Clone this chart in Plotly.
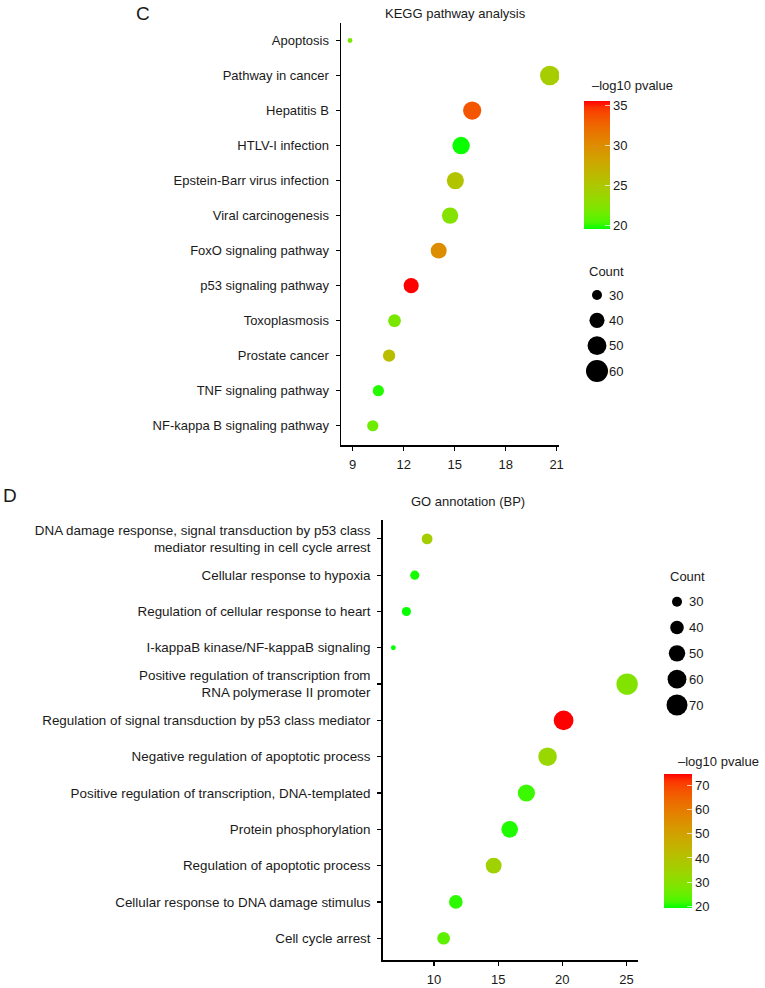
import plotly.graph_objects as go

# ---------------- data ----------------
kegg_terms = ["Apoptosis", "Pathway in cancer", "Hepatitis B", "HTLV-I infection",
              "Epstein-Barr virus infection", "Viral carcinogenesis", "FoxO signaling pathway",
              "p53 signaling pathway", "Toxoplasmosis", "Prostate cancer",
              "TNF signaling pathway", "NF-kappa B signaling pathway"]
kegg_x = [8.84, 20.6, 16.03, 15.38, 15.04, 14.73, 14.06, 12.44, 11.46, 11.14, 10.51, 10.18]
kegg_count = [24, 52, 48, 46, 45, 43, 42, 40, 35, 34, 32, 32]
kegg_logp = [22.0, 24.5, 33.5, 19.7, 25.5, 22.5, 30.0, 35.6, 22.0, 26.0, 20.0, 21.5]
kegg_xticks = [9, 12, 15, 18, 21]
kegg_size_levels = [30, 40, 50, 60]
kegg_color_ticks = [20, 25, 30, 35]

go_terms = ["DNA damage response, signal transduction by p53 class<br>mediator resulting in cell cycle arrest",
            "Cellular response to hypoxia",
            "Regulation of cellular response to heart",
            "I-kappaB kinase/NF-kappaB signaling",
            "Positive regulation of transcription from<br>RNA polymerase II promoter",
            "Regulation of signal transduction by p53 class mediator",
            "Negative regulation of apoptotic process",
            "Positive regulation of transcription, DNA-templated",
            "Protein phosphorylation",
            "Regulation of apoptotic process",
            "Cellular response to DNA damage stimulus",
            "Cell cycle arrest"]
go_x = [9.46, 8.5, 7.85, 6.83, 25.05, 20.1, 18.85, 17.2, 15.9, 14.65, 11.7, 10.75]
go_count = [32, 28, 28, 21, 72, 64, 59, 53, 51, 48, 40, 37]
go_logp = [36.0, 20.0, 19.5, 19.3, 29.0, 74.4, 33.0, 21.5, 20.5, 35.0, 21.0, 24.0]
go_xticks = [10, 15, 20, 25]
go_size_levels = [30, 40, 50, 60, 70]
go_color_ticks = [20, 30, 40, 50, 60, 70]

# ---------------- styling helpers ----------------
W, H = 765, 988
FONT = "Liberation Sans, Arial, sans-serif"
TXT = "#1a1a1a"


def px_x(p):
    return p / W


def px_y(p):
    return 1 - p / H


def _lin(c):
    c = c / 255.0
    return c / 12.92 if c <= 0.04045 else ((c + 0.055) / 1.055) ** 2.4


def _gam(c):
    c = 12.92 * c if c <= 0.0031308 else 1.055 * c ** (1 / 2.4) - 0.055
    return max(0, min(255, round(c * 255)))


def rgb2lab(rgb):
    r, g, b = (_lin(v) for v in rgb)
    X = (0.4124 * r + 0.3576 * g + 0.1805 * b) / 0.95047
    Y = (0.2126 * r + 0.7152 * g + 0.0722 * b)
    Z = (0.0193 * r + 0.1192 * g + 0.9505 * b) / 1.08883
    f = lambda t: t ** (1 / 3) if t > 0.008856 else 7.787 * t + 16 / 116
    fx, fy, fz = f(X), f(Y), f(Z)
    return (116 * fy - 16, 500 * (fx - fy), 200 * (fy - fz))


def lab2rgb(lab):
    L, a, bb = lab
    fy = (L + 16) / 116
    fx = fy + a / 500
    fz = fy - bb / 200
    finv = lambda t: t ** 3 if t ** 3 > 0.008856 else (t - 16 / 116) / 7.787
    X, Y, Z = finv(fx) * 0.95047, finv(fy), finv(fz) * 1.08883
    r = 3.2406 * X - 1.5372 * Y - 0.4986 * Z
    g = -0.9689 * X + 1.8758 * Y + 0.0415 * Z
    b = 0.0557 * X - 0.2040 * Y + 1.0570 * Z
    return (_gam(r), _gam(g), _gam(b))


lo, hi = rgb2lab((0, 255, 0)), rgb2lab((255, 0, 0))
scale = []
for i in range(21):
    t = i / 20
    c = lab2rgb(tuple(lo[k] + (hi[k] - lo[k]) * t for k in range(3)))
    scale.append([t, "rgb(%d,%d,%d)" % c])

kegg_size = lambda c: max(12.8 * c - 284, 16) ** 0.5
go_size = lambda c: max(8.5 * c - 155, 16) ** 0.5

fig = go.Figure()

# main dots
fig.add_trace(go.Scatter(
    x=kegg_x, y=kegg_terms, mode="markers", xaxis="x", yaxis="y",
    marker=dict(size=[kegg_size(c) for c in kegg_count], color=kegg_logp,
                coloraxis="coloraxis", line=dict(width=0), opacity=1),
    showlegend=False, hoverinfo="skip"))
fig.add_trace(go.Scatter(
    x=go_x, y=go_terms, mode="markers", xaxis="x2", yaxis="y2",
    marker=dict(size=[go_size(c) for c in go_count], color=go_logp,
                coloraxis="coloraxis2", line=dict(width=0), opacity=1),
    showlegend=False, hoverinfo="skip"))

# size legends
fig.add_trace(go.Scatter(
    x=[0] * len(kegg_size_levels), y=kegg_size_levels, mode="markers", xaxis="x3", yaxis="y3",
    marker=dict(size=[kegg_size(c) for c in kegg_size_levels], color="#000000",
                line=dict(width=0), opacity=1),
    opacity=1, showlegend=False, hoverinfo="skip"))
fig.add_trace(go.Scatter(
    x=[0] * len(go_size_levels), y=go_size_levels, mode="markers", xaxis="x4", yaxis="y4",
    marker=dict(size=[go_size(c) for c in go_size_levels], color="#000000",
                line=dict(width=0), opacity=1),
    opacity=1, showlegend=False, hoverinfo="skip"))

axis_common = dict(showline=True, linecolor="black", linewidth=1.5, ticks="outside",
                   ticklen=4, tickwidth=1.2, tickcolor="black", showgrid=False, zeroline=False,
                   automargin=False, tickfont=dict(family=FONT, size=13, color=TXT))

hidden = dict(visible=True, showline=False, showgrid=False, zeroline=False, ticks="",
              automargin=False, fixedrange=True)

fig.update_layout(
    width=W, height=H, margin=dict(l=0, r=0, t=0, b=0),
    paper_bgcolor="white", plot_bgcolor="white",
    font=dict(family=FONT, size=13, color=TXT),
    xaxis=dict(axis_common, domain=[px_x(341), px_x(559)], range=[8.31, 21.14],
               tickvals=kegg_xticks, anchor="y", ticklabelstandoff=3),
    yaxis=dict(axis_common, domain=[px_y(445), px_y(23)], type="category",
               categoryorder="array", categoryarray=kegg_terms,
               range=[11.55, -0.5], anchor="x", ticklabelstandoff=4),
    xaxis2=dict(axis_common, domain=[px_x(382.7), px_x(638)], range=[6.0, 25.9],
                tickvals=go_xticks, anchor="y2", ticklabelstandoff=3),
    yaxis2=dict(axis_common, domain=[px_y(960), px_y(520)], type="category",
                categoryorder="array", categoryarray=go_terms,
                range=[11.6, -0.52], anchor="x2", ticklabelstandoff=4,
                tickfont=dict(family=FONT, size=13.4, color=TXT)),
    xaxis3=dict(hidden, domain=[px_x(586), px_x(608)], range=[-1, 1], showticklabels=False,
                anchor="y3"),
    yaxis3=dict(hidden, domain=[px_y(383.7), px_y(282.3)], range=[65, 25], side="right",
                tickvals=kegg_size_levels, showticklabels=True, anchor="x3",
                tickfont=dict(family=FONT, size=13, color=TXT)),
    xaxis4=dict(hidden, domain=[px_x(666), px_x(688)], range=[-1, 1], showticklabels=False,
                anchor="y4"),
    yaxis4=dict(hidden, domain=[px_y(717.9), px_y(588.8)], range=[75, 25], side="right",
                tickvals=go_size_levels, showticklabels=True, anchor="x4",
                tickfont=dict(family=FONT, size=13, color=TXT)),
    coloraxis=dict(colorscale=scale, cmin=19.6, cmax=35.6,
                   colorbar=dict(x=px_x(584), xanchor="left", y=px_y(164.85), yanchor="middle",
                                 lenmode="pixels", len=128.3, thickness=26, thicknessmode="pixels",
                                 xpad=0, ypad=0, outlinewidth=0, tickvals=kegg_color_ticks,
                                 ticks="inside", ticklen=5, tickcolor="rgba(255,255,255,0.7)",
                                 tickfont=dict(family=FONT, size=13, color=TXT))),
    coloraxis2=dict(colorscale=scale, cmin=19.3, cmax=74.4,
                    colorbar=dict(x=px_x(664), xanchor="left", y=px_y(841.3), yanchor="middle",
                                  lenmode="pixels", len=134, thickness=28, thicknessmode="pixels",
                                  xpad=0, ypad=0, outlinewidth=0, tickvals=go_color_ticks,
                                  ticks="inside", ticklen=5, tickcolor="rgba(255,255,255,0.7)",
                                  tickfont=dict(family=FONT, size=13, color=TXT))),
)

ann = [
    dict(text="C", x=px_x(143), y=px_y(13), xanchor="center", font=dict(size=19)),
    dict(text="D", x=px_x(10), y=px_y(496), xanchor="center", font=dict(size=19)),
    dict(text="KEGG pathway analysis", x=px_x(455), y=px_y(14), xanchor="center"),
    dict(text="GO annotation (BP)", x=px_x(467.5), y=px_y(501.7), xanchor="center"),
    dict(text="–log10 pvalue", x=px_x(590), y=px_y(86), xanchor="left"),
    dict(text="Count", x=px_x(587), y=px_y(271), xanchor="left"),
    dict(text="–log10 pvalue", x=px_x(676), y=px_y(761.5), xanchor="left"),
    dict(text="Count", x=px_x(668), y=px_y(576.7), xanchor="left"),
]
for a in ann:
    f = dict(family=FONT, size=13, color=TXT)
    f.update(a.pop("font", {}))
    fig.add_annotation(xref="paper", yref="paper", yanchor="middle", showarrow=False,
                       font=f, **a)

fig.write_html("out.html",
               config={"displayModeBar": False, "staticPlot": True},
               post_script="document.body.style.margin='0';document.body.style.padding='0';"
                           "document.body.style.overflow='hidden';")
